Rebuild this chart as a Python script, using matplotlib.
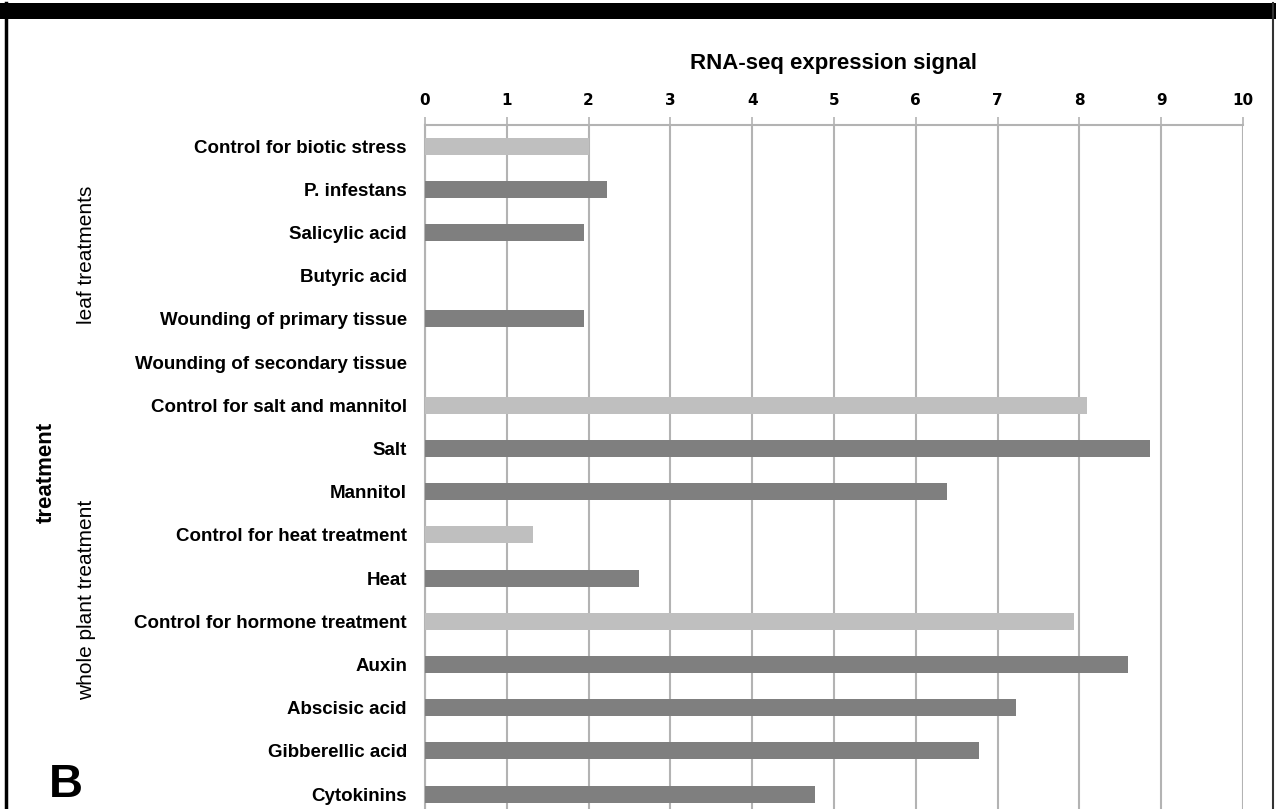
import matplotlib
matplotlib.use("Agg")
import matplotlib.pyplot as plt
from matplotlib.patches import Rectangle
from matplotlib.lines import Line2D

categories = [
    "Control for biotic stress", "P. infestans", "Salicylic acid", "Butyric acid",
    "Wounding of primary tissue", "Wounding of secondary tissue",
    "Control for salt and mannitol", "Salt", "Mannitol",
    "Control for heat treatment", "Heat", "Control for hormone treatment",
    "Auxin", "Abscisic acid", "Gibberellic acid", "Cytokinins",
]
values = [2.0, 2.22, 1.94, 0.0, 1.94, 0.0, 8.09, 8.86, 6.38, 1.32, 2.62,
          7.94, 8.59, 7.23, 6.77, 4.77]
is_control = [True, False, False, False, False, False, True, False, False,
              True, False, True, False, False, False, False]
xticks = list(range(0, 11))

LIGHT = "#BFBFBF"
DARK = "#7F7F7F"
GRID = "#B3B3B3"

W, H = 1276, 809
fig = plt.figure(figsize=(W / 100, H / 100), dpi=100)
fig.patch.set_facecolor("white")

left, right = 425 / W, 1243 / W
top = 1 - 124.5 / H
bottom = 1 - (124.5 + 16 * 43.2) / H
ax = fig.add_axes([left, bottom, right - left, top - bottom])

ypos = list(range(len(categories)))
colors = [LIGHT if c else DARK for c in is_control]
ax.barh(ypos, values, height=0.39, color=colors, edgecolor="none", zorder=3)

ax.set_xlim(0, 10)
ax.set_ylim(len(categories) - 0.5, -0.5)
ax.xaxis.tick_top()
ax.xaxis.set_label_position("top")
ax.set_xticks(xticks)
ax.set_xticklabels([str(t) for t in xticks], fontfamily="DejaVu Sans",
                   fontweight="bold", fontsize=11)
ax.tick_params(axis="x", direction="out", length=6, width=1.2, color=GRID, pad=6)
ax.set_yticks(ypos)
ax.set_yticklabels(categories, fontfamily="Liberation Sans", fontweight="bold",
                   fontsize=13.5)
ax.tick_params(axis="y", length=0, pad=13)

ax.grid(axis="x", color=GRID, linewidth=1.5, zorder=0)
for s in ["right", "bottom"]:
    ax.spines[s].set_visible(False)
ax.spines["top"].set_color(GRID)
ax.spines["top"].set_linewidth(1.5)
ax.spines["left"].set_color(GRID)
ax.spines["left"].set_linewidth(1.5)

ax.set_xlabel("RNA-seq expression signal", fontfamily="Liberation Sans",
              fontweight="bold", fontsize=16, labelpad=17)

# group labels
fig.text(46 / W, 1 - 472 / H, "treatment", rotation=90, ha="center", va="center",
         fontfamily="Liberation Sans", fontweight="bold", fontsize=16)
fig.text(87 / W, 1 - 255 / H, "leaf treatments", rotation=90, ha="center",
         va="center", fontfamily="Liberation Sans", fontsize=15)
fig.text(87 / W, 1 - 600 / H, "whole plant treatment", rotation=90, ha="center",
         va="center", fontfamily="Liberation Sans", fontsize=15)
fig.text(66 / W, 1 - 785 / H, "B", ha="center", va="center",
         fontfamily="Liberation Sans", fontweight="bold", fontsize=34)

# frame decorations
fig.add_artist(Rectangle((0, 1 - 19 / H), 1, 16 / H, transform=fig.transFigure,
                         facecolor="black", edgecolor="none"))
fig.add_artist(Line2D([6 / W, 6 / W], [0, 1 - 3 / H], transform=fig.transFigure,
                      color="black", linewidth=2.5))
fig.add_artist(Line2D([1273 / W, 1273 / W], [0, 1 - 3 / H], transform=fig.transFigure,
                      color="#333333", linewidth=1.5))

fig.savefig("out.png", dpi=100, facecolor="white")
